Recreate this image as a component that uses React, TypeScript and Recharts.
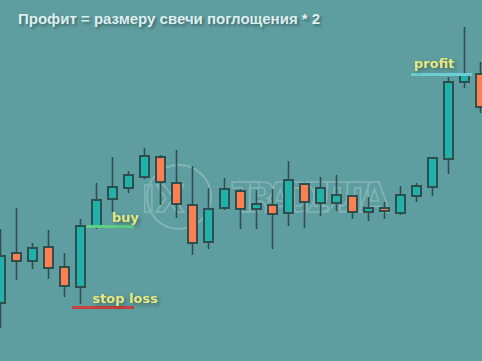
import React from 'react';
import { ComposedChart, Bar, XAxis, YAxis, ReferenceLine } from 'recharts';

// OHLC values (arbitrary price units)
const opens = [97, 147, 139, 153, 133, 113, 173, 201, 212, 223, 243, 217, 195, 158, 192, 209, 191, 195, 187, 216, 197, 197, 204, 188, 192, 187, 204, 213, 241, 318, 326];
const highs = [171, 192, 157, 170, 147, 181, 217, 243, 229, 252, 245, 250, 234, 212, 222, 211, 210, 211, 239, 217, 223, 225, 205, 203, 198, 214, 217, 243, 323, 373, 338];
const lows = [72, 120, 131, 121, 103, 96, 171, 188, 207, 221, 195, 182, 145, 151, 190, 171, 171, 151, 174, 172, 184, 189, 181, 179, 181, 185, 198, 204, 226, 312, 287];
const closes = [144, 139, 152, 132, 114, 174, 200, 213, 225, 244, 218, 196, 157, 191, 211, 191, 196, 186, 220, 198, 212, 205, 188, 192, 189, 205, 214, 242, 318, 325, 293];

// trade levels
const buyLevel = 173.5;
const stopLevel = 92.5;
const profitLevel = 325.5;

const title = 'Профит = размеру свечи поглощения * 2';

const data = opens.map((o, i) => ({
  i,
  open: o,
  high: highs[i],
  low: lows[i],
  close: closes[i],
  range: [lows[i], highs[i]],
}));

const BG = '#5f9ea0';
const UP = '#20b2aa';
const DOWN = '#ff7f50';
const EDGE = '#2f4f4f';
const LABEL = '#e8e87c';

const Candle = (props: any) => {
  const { x, y, width, height, payload } = props;
  const { open, close, high, low } = payload;
  const k = height / (high - low || 1);
  const top = y + (high - Math.max(open, close)) * k;
  const bottom = y + (high - Math.min(open, close)) * k;
  const cx = x + width / 2;
  return (
    <g>
      <line x1={cx} x2={cx} y1={y} y2={y + height} stroke={EDGE} strokeWidth={1.6} />
      <rect
        x={x + 1}
        y={top}
        width={width - 2}
        height={Math.max(bottom - top, 1)}
        fill={close >= open ? UP : DOWN}
        stroke={EDGE}
        strokeWidth={2}
      />
    </g>
  );
};

const tag = (text: string, dx: number, dy: number, anchor: 'start' | 'end') => (p: any) => {
  const vb = p.viewBox || {};
  const bx = anchor === 'end' ? vb.x + vb.width + dx : vb.x + dx;
  return (
    <text
      x={bx}
      y={vb.y + dy}
      textAnchor={anchor}
      fill={LABEL}
      fontFamily="DejaVu Sans"
      fontWeight="bold"
      fontSize={13}
      style={{ filter: 'drop-shadow(2px 2px 2px rgba(0,0,0,0.35))' }}
    >
      {text}
    </text>
  );
};

export default function App() {
  return (
    <div style={{ position: 'fixed', left: 0, top: 0, width: 482, height: 361, background: BG, overflow: 'hidden' }}>
      <svg width={482} height={361} style={{ position: 'absolute', left: 0, top: 0 }}>
        <g opacity={0.22} fill="none" stroke="#ffffff" strokeWidth={2}>
          <circle cx={179} cy={197} r={32} />
          <text x={163} y={212} fontFamily="DejaVu Sans" fontWeight="bold" fontSize={38} textAnchor="middle" stroke="#ffffff" strokeWidth={1.5}>IX</text>
          <text x={232} y={212} fontFamily="DejaVu Sans" fontWeight="bold" fontSize={40} stroke="#ffffff" strokeWidth={1.5} textLength={158}>TRADEЛЛА</text>
        </g>
      </svg>
      <ComposedChart
        width={496}
        height={361}
        data={data}
        margin={{ top: 0, right: 0, bottom: 0, left: 0 }}
        style={{ position: 'absolute', left: -8, top: 0 }}
      >
        <XAxis type="number" dataKey="i" domain={[-0.5, 30.5]} hide />
        <YAxis type="number" domain={[39, 400]} hide />
        <Bar dataKey="range" barSize={11} shape={<Candle />} isAnimationActive={false} />
        <ReferenceLine
          segment={[{ x: 5.375, y: buyLevel }, { x: 8.375, y: buyLevel }]}
          stroke="#5fcf85"
          strokeWidth={3}
          label={tag('buy', 5, -5, 'end')}
        />
        <ReferenceLine
          segment={[{ x: 4.5, y: stopLevel }, { x: 8.375, y: stopLevel }]}
          stroke="#c84040"
          strokeWidth={3}
          label={tag('stop loss', 24, -5, 'end')}
        />
        <ReferenceLine
          segment={[{ x: 25.69, y: profitLevel }, { x: 29.5, y: profitLevel }]}
          stroke="#6ccfd4"
          strokeWidth={3}
          label={tag('profit', 3, -7, 'start')}
        />
      </ComposedChart>
      <div
        style={{
          position: 'absolute',
          left: 18,
          top: 10,
          color: '#dcefef',
          fontFamily: '"Liberation Sans", Arial, sans-serif',
          fontWeight: 'bold',
          fontSize: 15,
          whiteSpace: 'nowrap',
          textShadow: '2px 2px 3px rgba(0,0,0,0.35)',
        }}
      >
        {title}
      </div>
    </div>
  );
}
